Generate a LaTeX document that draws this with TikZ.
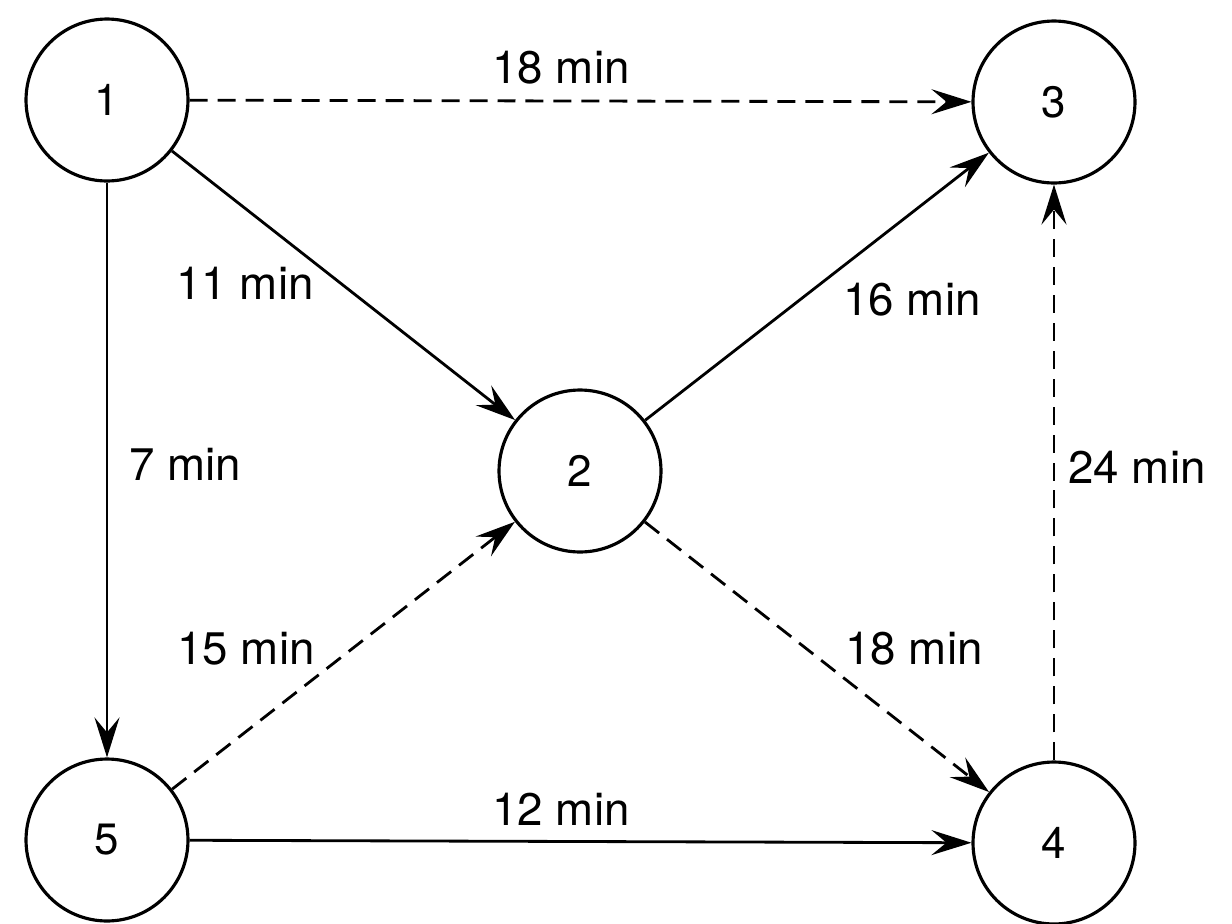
\documentclass[tikz,border=0pt]{standalone}
\usepackage{fontspec}
\setmainfont{TeX Gyre Heros}
\usetikzlibrary{arrows.meta}
\begin{document}
\begin{tikzpicture}[x=0.02cm,y=-0.02cm,
  vertex/.style={circle,draw,line width=1.8pt,minimum size=3.24cm,inner sep=0pt,font=\fontsize{25}{29}\selectfont},
  edge/.style={line width=1.6pt,-{Stealth[length=0.8cm,width=0.5cm,inset=0.3cm]}},
  dashedge/.style={edge,dash pattern=on 0.36cm off 0.2cm},
  lbl/.style={font=\fontsize{26}{30}\selectfont,inner sep=0pt}]
\useasboundingbox (0,0) rectangle (1232,924);
\node[vertex] (n1) at (107,100) {1};
\node[vertex] (n3) at (1054,102) {3};
\node[vertex] (n2) at (580,471) {2};
\node[vertex] (n5) at (107,840) {5};
\node[vertex] (n4) at (1054,843) {4};
\draw[dashedge] (n1) -- (n3);
\draw[edge] (n1) -- (n2);
\draw[edge] (n1) -- (n5);
\draw[edge] (n2) -- (n3);
\draw[dashedge] (n2) -- (n4);
\draw[dashedge] (n5) -- (n2);
\draw[edge] (n5) -- (n4);
\draw[dashedge] (n4) -- (n3);
\node[lbl] (l13) at (561,68) {18 min};
\node[lbl] (l12) at (245,283) {11 min};
\node[lbl] (l23) at (912,300) {16 min};
\node[lbl] (l15) at (185,464) {7 min};
\node[lbl] (l43) at (1137,467) {24 min};
\node[lbl] (l52) at (246,649) {15 min};
\node[lbl] (l24) at (914,649) {18 min};
\node[lbl] (l54) at (561,809) {12 min};
\end{tikzpicture}
\end{document}
